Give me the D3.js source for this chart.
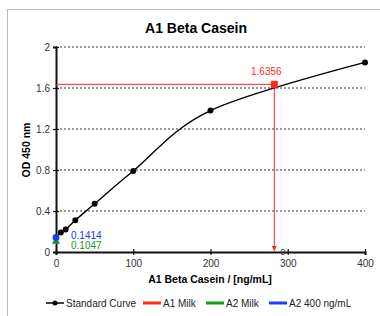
<!DOCTYPE html>
<head><style>body { margin: 0; background: #fff; } svg { display: block; }</style></head>
<body>
    <div class="container"></div>
    <script src="https://d3js.org/d3.v7.min.js"></script>
    <script>
        var stdConc = [0, 6.25, 12.5, 25, 50, 100, 200, 400];
        var stdOD = [0.14, 0.19, 0.22, 0.31, 0.47, 0.79, 1.38, 1.85];
        var a1Milk = [282.6, 1.6356];
        var a2Milk = [0, 0.1047];
        var a2_400 = [0, 0.1414];
        var yTicks = [0, 0.4, 0.8, 1.2, 1.6, 2];
        var xTicks = [0, 100, 200, 300, 400];
        var legendNames = ['Standard Curve', 'A1 Milk', 'A2 Milk', 'A2 400 ng/mL'];
        var legendColors = ['#000', '#ff2a1a', '#1a9a1a', '#1a3cff'];

        var svg = d3.select('.container')
                    .append('svg')
                    .attr('width', 380)
                    .attr('height', 316)
                    .style('font-family', 'Liberation Sans, Arial, sans-serif');

        // chart frame
        svg.append('rect')
           .attr('x', 7.5).attr('y', 9.5)
           .attr('width', 400).attr('height', 400)
           .attr('fill', 'none')
           .attr('stroke', '#bbb');

        var x = d3.scaleLinear().domain([0, 400]).range([56, 365]);
        var y = d3.scaleLinear().domain([0, 2]).range([252, 47]);

        // grid
        svg.append('g').selectAll('line')
           .data(yTicks.slice(1))
           .enter().append('line')
           .attr('x1', 56).attr('x2', 365)
           .attr('y1', function(d) { return y(d); })
           .attr('y2', function(d) { return y(d); })
           .attr('stroke', '#000')
           .attr('stroke-width', 0.8)
           .attr('stroke-dasharray', '2,2');

        var yaxis = svg.append('g')
                       .attr('transform', 'translate(56,0)')
                       .call(d3.axisLeft(y).tickValues(yTicks).tickSize(3)
                                .tickFormat(d3.format('')));
        var xaxis = svg.append('g')
                       .attr('transform', 'translate(0,252)')
                       .call(d3.axisBottom(x).tickValues(xTicks).tickSize(3));
        [yaxis, xaxis].forEach(function(a) {
            a.select('.domain').attr('stroke-width', 2).attr('stroke', '#111');
            a.selectAll('.tick line').attr('stroke', '#111').attr('stroke-width', 1.2);
            a.selectAll('.tick text').attr('fill', '#333').style('font-size', '10px');
        });
        yaxis.selectAll('.tick line').attr('x1', 3);
        yaxis.selectAll('.tick text').attr('x', -6);
        xaxis.selectAll('.tick line').attr('y1', -3);
        xaxis.selectAll('.tick text').attr('y', 8);

        // titles
        svg.append('text').attr('x', 196).attr('y', 33)
           .attr('text-anchor', 'middle')
           .style('font-size', '14px').style('font-weight', 'bold')
           .text('A1 Beta Casein');
        svg.append('text').attr('x', 210).attr('y', 283)
           .attr('text-anchor', 'middle')
           .style('font-size', '10.5px').style('font-weight', 'bold')
           .text('A1 Beta Casein / [ng/mL]');
        svg.append('text')
           .attr('transform', 'translate(30,150) rotate(-90)')
           .attr('text-anchor', 'middle')
           .style('font-size', '10.5px').style('font-weight', 'bold')
           .text('OD 450 nm');

        // red guide lines
        svg.append('defs').append('marker')
           .attr('id', 'arr').attr('viewBox', '0 0 10 10')
           .attr('refX', 10).attr('refY', 5)
           .attr('markerWidth', 5).attr('markerHeight', 5)
           .attr('orient', 'auto')
           .append('path').attr('d', 'M0,0L10,5L0,10z').attr('fill', legendColors[1]);
        svg.append('line')
           .attr('x1', x(0)).attr('x2', x(a1Milk[0]))
           .attr('y1', y(a1Milk[1])).attr('y2', y(a1Milk[1]))
           .attr('stroke', legendColors[1]).attr('stroke-width', 1);
        svg.append('line')
           .attr('x1', x(a1Milk[0])).attr('x2', x(a1Milk[0]))
           .attr('y1', y(a1Milk[1])).attr('y2', y(0) - 1)
           .attr('stroke', legendColors[1]).attr('stroke-width', 1)
           .attr('marker-end', 'url(#arr)');

        // standard curve
        var pts = stdConc.map(function(c, i) { return [c, stdOD[i]]; });
        var line = d3.line()
                     .x(function(d) { return x(d[0]); })
                     .y(function(d) { return y(d[1]); })
                     .curve(d3.curveCardinal.tension(0));
        svg.append('path').datum(pts)
           .attr('d', line)
           .attr('fill', 'none')
           .attr('stroke', '#000')
           .attr('stroke-width', 1.4);
        svg.append('g').selectAll('circle')
           .data(pts).enter().append('circle')
           .attr('cx', function(d) { return x(d[0]); })
           .attr('cy', function(d) { return y(d[1]); })
           .attr('r', 3)
           .attr('fill', '#000');

        // samples
        svg.append('path')
           .attr('d', d3.symbol().type(d3.symbolTriangle).size(30))
           .attr('transform', 'translate(' + x(a2Milk[0]) + ',' + y(a2Milk[1]) + ')')
           .attr('fill', legendColors[2]);
        svg.append('circle')
           .attr('cx', x(a2_400[0])).attr('cy', y(a2_400[1]))
           .attr('r', 3.4).attr('fill', legendColors[3]);
        svg.append('rect')
           .attr('x', x(a1Milk[0]) - 3.5).attr('y', y(a1Milk[1]) - 3.5)
           .attr('width', 7).attr('height', 7)
           .attr('fill', legendColors[1]);

        // data labels
        svg.append('text').attr('x', x(a1Milk[0]) - 8).attr('y', y(a1Milk[1]) - 9)
           .attr('text-anchor', 'middle').attr('fill', legendColors[1])
           .style('font-size', '10px').text(a1Milk[1]);
        svg.append('text').attr('x', 71).attr('y', 238.5)
           .attr('fill', '#2233ff').style('font-size', '10px').text(a2_400[1]);
        svg.append('text').attr('x', 71).attr('y', 249)
           .attr('fill', legendColors[2]).style('font-size', '10px').text(a2Milk[1]);
        svg.append('text').attr('x', x(a1Milk[0]) + 6).attr('y', y(0) + 3)
           .attr('fill', '#333').style('font-size', '9px').text('0');

        // legend
        var legX = [46, 143, 206, 269];
        var leg = svg.append('g').selectAll('g')
                     .data(legendNames).enter().append('g')
                     .attr('transform', function(d, i) { return 'translate(' + legX[i] + ',303)'; });
        leg.append('line')
           .attr('x1', 0).attr('x2', 18)
           .attr('stroke', function(d, i) { return legendColors[i]; })
           .attr('stroke-width', function(d, i) { return i ? 3 : 1.5; });
        leg.filter(function(d, i) { return i === 0; })
           .append('circle').attr('cx', 9).attr('r', 2.5).attr('fill', '#000');
        leg.append('text')
           .attr('x', 20).attr('y', 3.5)
           .attr('fill', '#222')
           .style('font-size', '10px')
           .text(function(d) { return d; });
    </script>
</body>
